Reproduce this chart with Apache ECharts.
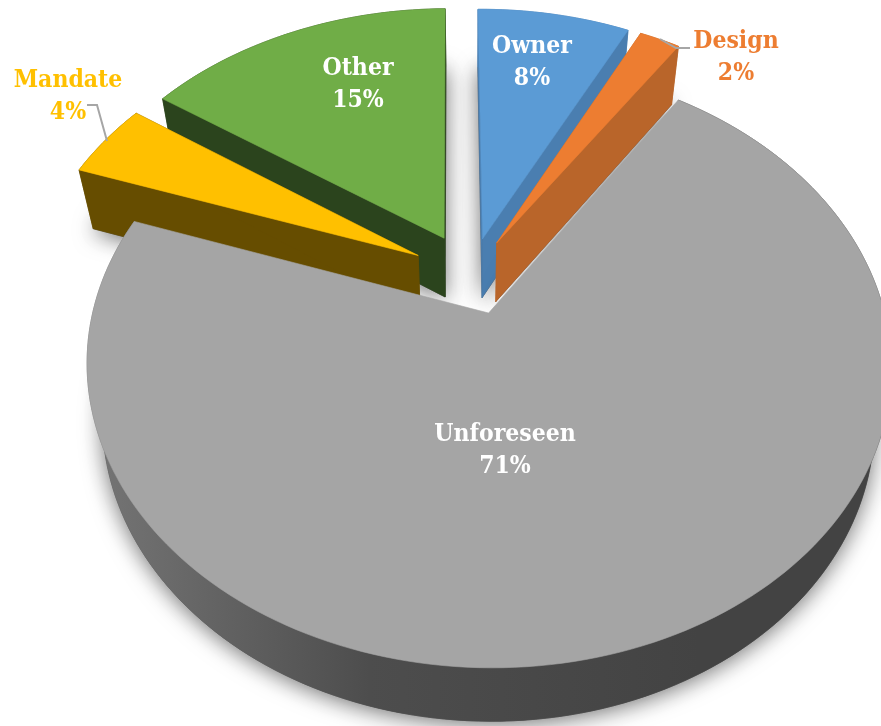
<!DOCTYPE html>
<html>
<head>
<meta charset="utf-8">
<style>html,body{margin:0;padding:0;background:#fff}#c{width:881px;height:726px}</style>
<script src="https://cdn.jsdelivr.net/npm/echarts@6/dist/echarts.min.js"></script>
</head>
<body>
<div id="c"></div>
<script>
// Data (slice sizes; labels show them rounded)
const categories = ['Owner', 'Design', 'Unforeseen', 'Mandate', 'Other'];
const shares = [7.5, 2, 71, 4.3, 15.2];

// Styles (per category)
const topColors = ['#5b9bd5', '#ed7d31', '#a5a5a5', '#ffc000', '#70ad47'];
const sideColors = ['#4a7eb0', '#b9652a', '#444444', '#664d00', '#2b441d'];
const labelColors = ['#ffffff', '#ed7d31', '#ffffff', '#ffc000', '#ffffff'];
const paintOrder = [1, 2, 5, 4, 3];
const explodeBy = [0.135, 0.135, 0.14, 0.155, 0.152];
const labelCenters = [[532, 47], [736, 42], [505, 435], [68, 81], [358, 69]];
const leaders = [null, [[660, 39], [676, 48], [690, 48]], null, [[87, 105], [97, 105], [107, 141]], null];

// Projection of the tilted disc
const cam = {cx: 471, cy: 275, a: 387, b: 280, p: 0.17, q: 0.04, h: 61, startDeg: -0.5};
function project(u, v, z) {
  const w = 1 + cam.p * v + cam.q * z;
  return [cam.cx + cam.a * u / w, cam.cy - (cam.b * v - cam.h * z) / w];
}
const total = shares.reduce((s, x) => s + x, 0);

function renderItem(params, api) {
  const i = params.dataIndex;
  const val = api.value(0);
  let before = 0;
  for (let k = 0; k < i; k++) before += shares[k];
  const start = cam.startDeg * Math.PI / 180 + before / total * 2 * Math.PI;
  const end = start + val / total * 2 * Math.PI;
  const mid = (start + end) / 2;
  const ox = explodeBy[i] * Math.sin(mid), oy = explodeBy[i] * Math.cos(mid);
  const rim = z => {
    const pts = [], n = Math.max(6, Math.round((end - start) * 40));
    for (let s = 0; s <= n; s++) {
      const t = start + (end - start) * s / n;
      pts.push(project(ox + Math.sin(t), oy + Math.cos(t), z));
    }
    return pts;
  };
  const apex = z => project(ox, oy, z);
  const topRim = rim(0), botRim = rim(1);
  const z0 = paintOrder[i] * 10;
  const kids = [];
  const poly = (points, fill, z2, extra) => kids.push({
    type: 'polygon', z2, shape: {points},
    style: Object.assign({fill, stroke: fill, lineWidth: 0.6}, extra || {})
  });
  const shade = {shadowBlur: 22, shadowColor: 'rgba(0,0,0,0.55)', shadowOffsetY: 3};
  // floor shadow
  poly([apex(1)].concat(botRim), '#555555', z0, shade);
  const isMain = categories[i] === 'Unforeseen';
  const sideFill = isMain
    ? new echarts.graphic.LinearGradient(100, 0, 700, 0, [
        {offset: 0, color: '#747474'}, {offset: 0.45, color: '#4d4d4d'}, {offset: 1, color: '#434343'}
      ], true)
    : sideColors[i];
  // side walls
  poly(topRim.concat(botRim.slice().reverse()), sideFill, z0 + 1);
  if (!isMain) {
    poly([apex(0), topRim[0], botRim[0], apex(1)], sideColors[i], z0 + 2);
    poly([apex(0), topRim[topRim.length - 1], botRim[botRim.length - 1], apex(1)], sideColors[i], z0 + 2);
  }
  // top face
  poly([apex(0)].concat(topRim), topColors[i], z0 + 3);
  // leader line
  if (leaders[i]) {
    kids.push({type: 'polyline', z2: 200, shape: {points: leaders[i]},
      style: {stroke: '#a6a6a6', lineWidth: 2, fill: null}});
  }
  // label
  kids.push({
    type: 'text', z2: 300,
    x: labelCenters[i][0], y: labelCenters[i][1] + 16,
    style: {
      text: categories[i] + '\n' + Math.round(val) + '%',
      fill: labelColors[i],
      font: 'bold 24.5px "DejaVu Serif Condensed","DejaVu Serif",serif',
      align: 'center', verticalAlign: 'middle', lineHeight: 32
    }
  });
  return {type: 'group', children: kids};
}

const chart = echarts.init(document.getElementById('c'), null, {renderer: 'canvas'});
chart.setOption({
  animation: false,
  backgroundColor: '#ffffff',
  series: [{
    type: 'custom',
    coordinateSystem: 'none',
    renderItem,
    silent: true,
    clip: false,
    data: shares.map((v, i) => ({name: categories[i], value: [v]}))
  }]
});
</script>
</body>
</html>
